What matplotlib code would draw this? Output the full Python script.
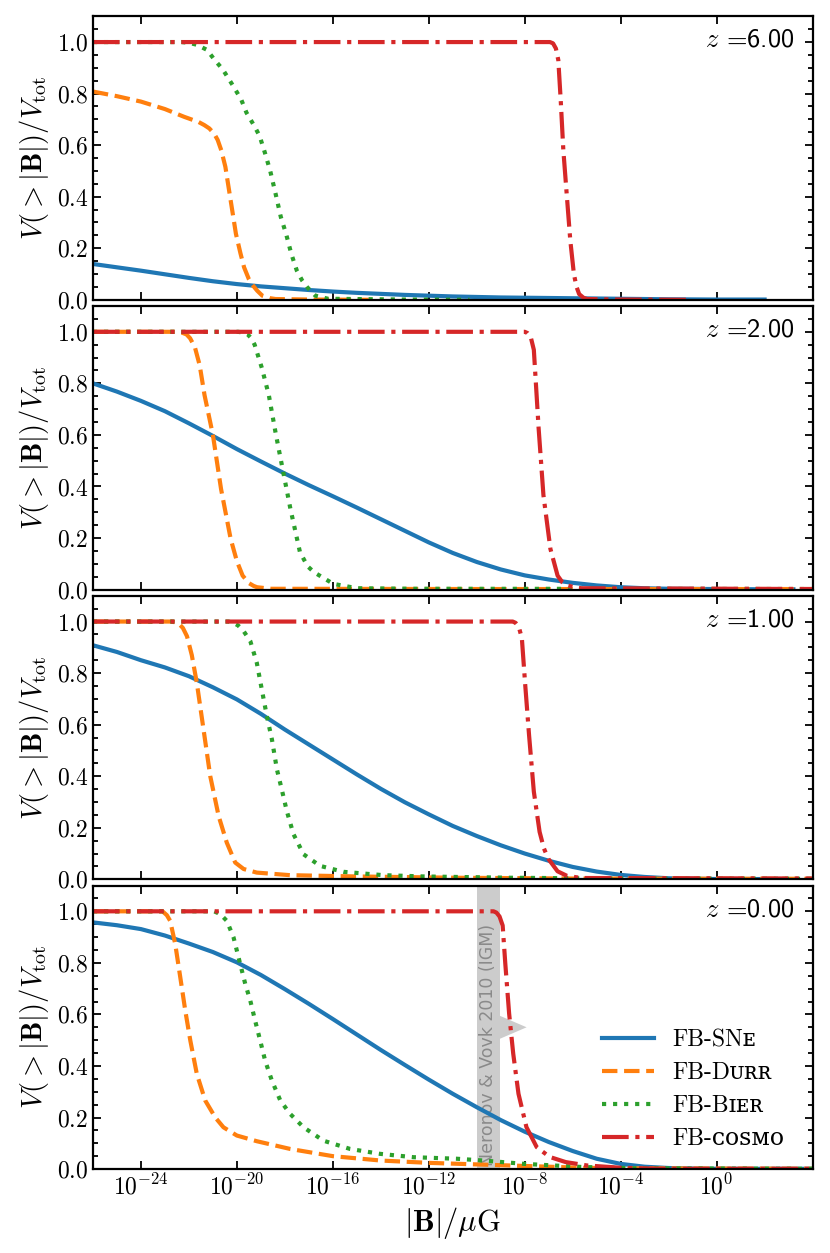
import numpy as np
import matplotlib
matplotlib.use('Agg')
import matplotlib.pyplot as plt
from matplotlib.ticker import MultipleLocator, NullLocator

# redshifts of the four panels (top to bottom)
redshifts = [6.0, 2.0, 1.0, 0.0]
labels = ['FB-SNᴇ', 'FB-Dᴜʀʀ', 'FB-Bɪᴇʀ', 'FB-ᴄᴏꜱᴍᴏ']
colors = ['tab:blue', 'tab:orange', 'tab:green', 'tab:red']
styles = ['-', '--', ':', '-.']

# log10(|B| / muG) and V(>|B|)/V_tot
# z = 6
sne6_x = [-26, -25, -24, -23, -22, -21, -20, -19, -18, -17, -16, -15, -14, -13, -12, -11, -10, -9, -8, -6, -4,
          -2, 0, 2]
sne6_y = [0.139, 0.126, 0.113, 0.099, 0.085, 0.072, 0.061, 0.052, 0.045, 0.038, 0.032, 0.027, 0.023, 0.019,
          0.016, 0.013, 0.011, 0.009, 0.008, 0.006, 0.004, 0.002, 0.001, 0.001]
durr6_x = [-26, -25, -24, -23, -22.2, -21.6, -21.36, -21.15, -20.95, -20.8, -20.65, -20.48, -20.26, -20.04,
           -19.85, -19.7, -19.5, -19.38, -19.15, -18.94, -18.6, -18.39, -17, -14.5]
durr6_y = [0.808, 0.79, 0.769, 0.74, 0.71, 0.69, 0.678, 0.665, 0.645, 0.62, 0.58, 0.516, 0.386, 0.256,
           0.18, 0.126, 0.08, 0.061, 0.035, 0.016, 0.006, 0.003, 0.001, 0.0]
bier6_x = [-26, -22.3, -22.0, -21.69, -21.25, -20.92, -20.59, -20.15, -19.82, -19.6, -19.27, -19.05, -18.83,
           -18.61, -18.39, -18.17, -17.95, -17.73, -17.5, -17.28, -17.06, -16.73, -16.2, -13, -10.3]
bier6_y = [1.0, 1.0, 0.997, 0.99, 0.97, 0.93, 0.894, 0.829, 0.777, 0.726, 0.674, 0.635, 0.57,
           0.50, 0.413, 0.322, 0.256, 0.178, 0.113, 0.075, 0.048, 0.016, 0.004, 0.001, 0.0]
cosmo6_x = [-26, -6.95, -6.82, -6.7, -6.6, -6.5, -6.39, -6.23, -6.1, -5.95, -5.84, -5.73, -5.55, -5.4, -4, -1.1]
cosmo6_y = [1.0, 1.0, 0.995, 0.975, 0.93, 0.775, 0.58, 0.386, 0.23, 0.1, 0.05, 0.022, 0.008, 0.003, 0.001, 0.0]

# z = 2
sne2_x = [-26, -25, -24, -23, -22, -21, -20, -19, -18, -17, -16, -15, -14, -13, -12, -11, -10, -9, -8, -7, -6,
          -5, -4, -3, -2, 0, 2, 3.2]
sne2_y = [0.80, 0.768, 0.732, 0.692, 0.645, 0.596, 0.545, 0.497, 0.45, 0.405, 0.362, 0.318, 0.273, 0.228,
          0.183, 0.142, 0.107, 0.078, 0.055, 0.039, 0.026, 0.016, 0.009, 0.005, 0.003, 0.002, 0.001, 0.001]
durr2_x = [-26, -22.55, -22.3, -22.1, -21.95, -21.75, -21.55, -21.35, -21.0, -20.66, -20.26, -20.0, -19.76,
           -19.5, -19.3, -19.16, -18.57, -10, 4]
durr2_y = [1.0, 1.0, 0.997, 0.99, 0.975, 0.94, 0.87, 0.755, 0.60, 0.39, 0.197, 0.11, 0.054,
           0.025, 0.014, 0.009, 0.003, 0.002, 0.002]
bier2_x = [-26, -19.95, -19.75, -19.55, -19.4, -19.26, -18.96, -18.67, -18.37, -18.07, -17.77, -17.37,
           -17.05, -16.78, -15.98, -14.98, -12.6, 4]
bier2_y = [1.0, 1.0, 0.997, 0.99, 0.975, 0.95, 0.86, 0.755, 0.60, 0.457, 0.314, 0.145,
           0.09, 0.067, 0.022, 0.005, 0.003, 0.002]
cosmo2_x = [-26, -8.0, -7.88, -7.75, -7.62, -7.42, -7.22, -6.93, -6.63, -6.43, -6.23, -5.9, -5.63, 4]
cosmo2_y = [1.0, 1.0, 0.995, 0.98, 0.93, 0.625, 0.366, 0.158, 0.054, 0.028, 0.016, 0.008, 0.005, 0.002]

# z = 1
sne1_x = [-26, -25, -24, -23, -22, -21, -20, -19, -18, -17, -16, -15, -14, -13, -12, -11, -10, -9, -8, -7, -6,
          -5, -4, -3, -2, -1, 0, 3.2]
sne1_y = [0.908, 0.882, 0.850, 0.822, 0.788, 0.745, 0.698, 0.642, 0.581, 0.523, 0.465, 0.407, 0.351, 0.299,
          0.252, 0.207, 0.168, 0.132, 0.1, 0.072, 0.048, 0.03, 0.017, 0.009, 0.004, 0.002, 0.001, 0.001]
durr1_x = [-26, -22.75, -22.55, -22.4, -22.25, -22.08, -21.88, -21.67, -21.39, -21.11, -20.76, -20.42, -20.07,
           -19.72, -19.17, -17.78, -15.0, -10.83, -6, 4]
durr1_y = [1.0, 1.0, 0.997, 0.99, 0.975, 0.943, 0.87, 0.762, 0.581, 0.40, 0.245, 0.142, 0.065,
           0.04, 0.026, 0.016, 0.011, 0.006, 0.003, 0.002]
bier1_x = [-26, -20.35, -20.15, -19.95, -19.72, -19.44, -19.17, -18.96, -18.75, -18.54, -18.33, -18.13, -17.92,
           -17.64, -17.22, -16.53, -15.56, -13.89, -12.2, -8.6, -4.5, 4]
bier1_y = [1.0, 1.0, 0.995, 0.985, 0.963, 0.924, 0.84, 0.736, 0.633, 0.543, 0.426, 0.349, 0.265,
           0.175, 0.097, 0.052, 0.029, 0.016, 0.011, 0.006, 0.003, 0.002]
cosmo1_x = [-26, -8.5, -8.38, -8.25, -8.12, -7.98, -7.82, -7.62, -7.38, -7.2, -7.02, -6.63, -6.23, -5.63, 4]
cosmo1_y = [1.0, 1.0, 0.995, 0.98, 0.936, 0.755, 0.56, 0.34, 0.184, 0.12, 0.08, 0.031, 0.013, 0.005, 0.003]

# z = 0
sne0_x = [-26, -25, -24, -23, -22, -21, -20, -19, -18, -17, -16, -15, -14, -13, -12, -11, -10, -9, -8, -7, -6,
          -5, -4, -3, -2, -1, 0, 2, 4]
sne0_y = [0.957, 0.946, 0.931, 0.906, 0.875, 0.842, 0.802, 0.753, 0.698, 0.641, 0.582, 0.522, 0.462, 0.404,
          0.347, 0.292, 0.24, 0.19, 0.145, 0.105, 0.07, 0.04, 0.02, 0.009, 0.004, 0.002, 0.001, 0.001, 0.001]
durr0_x = [-26, -23.1, -22.92, -22.78, -22.57, -22.36, -22.15, -21.94, -21.67, -21.32, -20.9, -20.56, -20.0,
           -19.17, -17.78, -16, -14, -12, -10, -8, -5.62, -4, 4]
durr0_y = [1.0, 1.0, 0.985, 0.963, 0.873, 0.744, 0.614, 0.498, 0.369, 0.266, 0.2, 0.162, 0.13,
           0.108, 0.078, 0.05, 0.033, 0.024, 0.018, 0.012, 0.005, 0.003, 0.001]
bier0_x = [-26, -20.95, -20.69, -20.42, -20.14, -19.86, -19.65, -19.44, -19.24, -19.03, -18.82, -18.54, -18.19,
           -17.78, -17.22, -16.39, -15.28, -14.03, -12.64, -10.83, -9.72, -8, -5.62, -3.4, 4]
bier0_y = [1.0, 1.0, 0.989, 0.963, 0.899, 0.795, 0.718, 0.653, 0.576, 0.499, 0.42, 0.343, 0.266,
           0.214, 0.162, 0.11, 0.078, 0.059, 0.046, 0.04, 0.033, 0.02, 0.008, 0.003, 0.001]
cosmo0_x = [-26, -9.3, -9.18, -9.05, -8.92, -8.81, -8.65, -8.48, -8.26, -7.93, -7.5, -6.96, -6.29, -5.41, -4,
            -2.3, 4]
cosmo0_y = [1.0, 1.0, 0.995, 0.98, 0.945, 0.797, 0.603, 0.448, 0.292, 0.163, 0.085, 0.047, 0.027, 0.014,
            0.005, 0.001, 0.001]

panels = [
    [(sne6_x, sne6_y), (durr6_x, durr6_y), (bier6_x, bier6_y), (cosmo6_x, cosmo6_y)],
    [(sne2_x, sne2_y), (durr2_x, durr2_y), (bier2_x, bier2_y), (cosmo2_x, cosmo2_y)],
    [(sne1_x, sne1_y), (durr1_x, durr1_y), (bier1_x, bier1_y), (cosmo1_x, cosmo1_y)],
    [(sne0_x, sne0_y), (durr0_x, durr0_y), (bier0_x, bier0_y), (cosmo0_x, cosmo0_y)],
]

# Neronov & Vovk 2010 lower limit (IGM), in muG
nv_lo, nv_hi = 1e-10, 9e-10
nv_arrow_tip = 1.2e-8
nv_arrow_y, nv_arrow_half = 0.55, 0.045

plt.rcParams['font.family'] = ['cmr10', 'DejaVu Serif', 'DejaVu Sans']
plt.rcParams['mathtext.fontset'] = 'cm'
plt.rcParams['axes.formatter.use_mathtext'] = True
plt.rcParams['axes.unicode_minus'] = False

fig, axes = plt.subplots(4, 1, figsize=(8.3, 12.53), dpi=100, sharex=True)
fig.subplots_adjust(left=0.112, right=0.979, top=0.987, bottom=0.067, hspace=0.022)

for ax, z, curves in zip(axes, redshifts, panels):
    for (lx, v), lab, c, ls in zip(curves, labels, colors, styles):
        ax.plot(10.0 ** np.array(lx), v, color=c, ls=ls, lw=3.0, label=lab)
    ax.set_xscale('log')
    ax.set_xlim(1e-26, 1e4)
    ax.set_ylim(0, 1.1)
    ax.set_xticks([10.0 ** k for k in range(-24, 4, 4)])
    ax.xaxis.set_minor_locator(NullLocator())
    ax.yaxis.set_major_locator(MultipleLocator(0.2))
    ax.yaxis.set_minor_locator(MultipleLocator(0.05))
    ax.tick_params(which='both', direction='in', top=True, right=True, labelsize=17, width=1.3)
    ax.tick_params(which='major', length=6)
    ax.tick_params(which='minor', length=3.5)
    for s in ax.spines.values():
        s.set_linewidth(1.6)
    ax.set_ylabel(r'$V(>|\mathbf{B}|)/V_{\rm tot}$', fontsize=20.5)
    ax.text(0.975, 0.915, r'$z$ =%.2f' % z, transform=ax.transAxes, ha='right', va='center',
            fontsize=19, family=['cmss10', 'DejaVu Sans'])

ax = axes[-1]
ax.axvspan(nv_lo, nv_hi, color='#cccccc', lw=0, zorder=0)
ax.fill([nv_hi, nv_hi, nv_arrow_tip], [nv_arrow_y - nv_arrow_half, nv_arrow_y + nv_arrow_half, nv_arrow_y],
        color='#cccccc', lw=0, zorder=0)
ax.text(np.sqrt(nv_lo * nv_hi), 0.01, 'Neronov & Vovk 2010 (IGM)', rotation=90, ha='center', va='bottom',
        color='#8a8a8a', fontsize=12.5, family='DejaVu Sans', zorder=1)
ax.legend(loc='center right', bbox_to_anchor=(0.99, 0.28), frameon=False, fontsize=17,
          handlelength=2.2, labelspacing=0.45, handletextpad=0.75)
ax.set_xlabel(r'$|\mathbf{B}|/\mu{\rm G}$', fontsize=22)

fig.savefig('out.png', dpi=100)
